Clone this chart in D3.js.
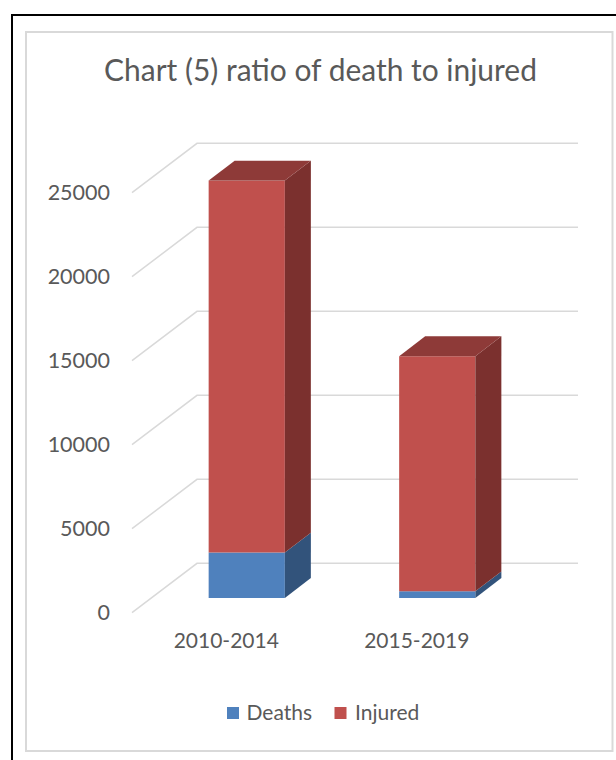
<!DOCTYPE html>
<html>
<head>
<meta charset="utf-8">
<script src="https://cdn.jsdelivr.net/npm/d3@7"></script>
<style>
  html, body { margin: 0; padding: 0; background: #ffffff; }
  svg { display: block; }
  text { font-family: Lato, "Open Sans", sans-serif; fill: #595959; }
</style>
</head>
<body>
<script>
// ---- data ----
const categories = ["2010-2014", "2015-2019"];
const deaths = [2700, 400];
const injured = [22150, 13990];
const seriesNames = ["Deaths", "Injured"];
const yTicks = [0, 5000, 10000, 15000, 20000, 25000];
const titleText = "Chart (5) ratio of death to injured";

// ---- layout ----
const W = 616, H = 760;
const svg = d3.select("body").append("svg").attr("width", W).attr("height", H);

// borders
svg.append("path")
  .attr("d", `M12,${H} L12,15 L${W},15`)
  .attr("fill", "none").attr("stroke", "#000").attr("stroke-width", 2);
svg.append("rect")
  .attr("x", 26).attr("y", 32).attr("width", 586.5).attr("height", 719)
  .attr("fill", "#fff").attr("stroke", "#d9d9d9").attr("stroke-width", 2);

// 3D frame: floor front-left origin + depth vector
const ox = 132, wallW = 381;
const depth = { dx: 65, dy: -49.4 };
const y = d3.scaleLinear().domain([0, 25000]).range([612.7, 192.7]);
const x = d3.scaleBand().domain(categories).range([ox, ox + wallW])
  .paddingInner(0.6).paddingOuter(0.3);

// projection: (floor x, value, depth fraction z) -> screen
const P = (fx, v, z) => [fx + z * depth.dx, y(v) + z * depth.dy];

// gridlines: side wall diagonals + back wall horizontals
const grid = svg.append("g").attr("stroke", "#d9d9d9").attr("stroke-width", 1.5).attr("fill", "none");
yTicks.forEach(t => {
  const a = P(ox, t, 0), b = P(ox, t, 1), c = P(ox + wallW, t, 1);
  grid.append("path").attr("d", `M${a[0]},${a[1]} L${b[0]},${b[1]} L${c[0]},${c[1]}`);
});

// y tick labels
svg.append("g").selectAll("text").data(yTicks).join("text")
  .attr("x", 110).attr("y", d => y(d)).attr("dy", "0.36em")
  .attr("text-anchor", "end").attr("font-size", 21.5)
  .text(d => d);

// bars
const colors = {
  Deaths: { front: "#4F81BD", side: "#32537B", top: "#3D6696" },
  Injured: { front: "#C0504D", side: "#7B302E", top: "#8E3A38" }
};
const z0 = 0.3, z1 = 0.7;
const poly = pts => "M" + pts.map(p => p.join(",")).join("L") + "Z";
const barsG = svg.append("g");
categories.forEach((cat, i) => {
  const vals = [deaths[i], injured[i]];
  let base = 0;
  const x0 = x(cat), x1 = x(cat) + x.bandwidth();
  vals.forEach((v, s) => {
    const top = base + v;
    const c = colors[seriesNames[s]];
    barsG.append("path").attr("d", poly([P(x0, base, z0), P(x1, base, z0), P(x1, top, z0), P(x0, top, z0)]))
      .attr("fill", c.front);
    barsG.append("path").attr("d", poly([P(x1, base, z0), P(x1, base, z1), P(x1, top, z1), P(x1, top, z0)]))
      .attr("fill", c.side);
    if (s === vals.length - 1) {
      barsG.append("path").attr("d", poly([P(x0, top, z0), P(x1, top, z0), P(x1, top, z1), P(x0, top, z1)]))
        .attr("fill", c.top);
    }
    base = top;
  });
});

// x labels
svg.append("g").selectAll("text").data(categories).join("text")
  .attr("x", d => x(d) + x.bandwidth() / 2 - 1).attr("y", 648)
  .attr("text-anchor", "middle").attr("font-size", 21)
  .text(d => d);

// title
const title = svg.append("text").attr("x", 320.5).attr("y", 81)
  .attr("text-anchor", "middle").attr("font-size", 24).text(titleText);
const tw = title.node().getComputedTextLength();
title.attr("font-size", 24 * 433 / tw);

// legend
const legend = svg.append("g");
const legendItems = [
  { name: "Deaths", sx: 227, tx: 246.5 },
  { name: "Injured", sx: 334.5, tx: 355 }
];
legendItems.forEach(d => {
  legend.append("rect").attr("x", d.sx).attr("y", 707).attr("width", 12).attr("height", 12)
    .attr("fill", colors[d.name].front);
  legend.append("text").attr("x", d.tx).attr("y", 719.5).attr("font-size", 21).text(d.name);
});
</script>
</body>
</html>
